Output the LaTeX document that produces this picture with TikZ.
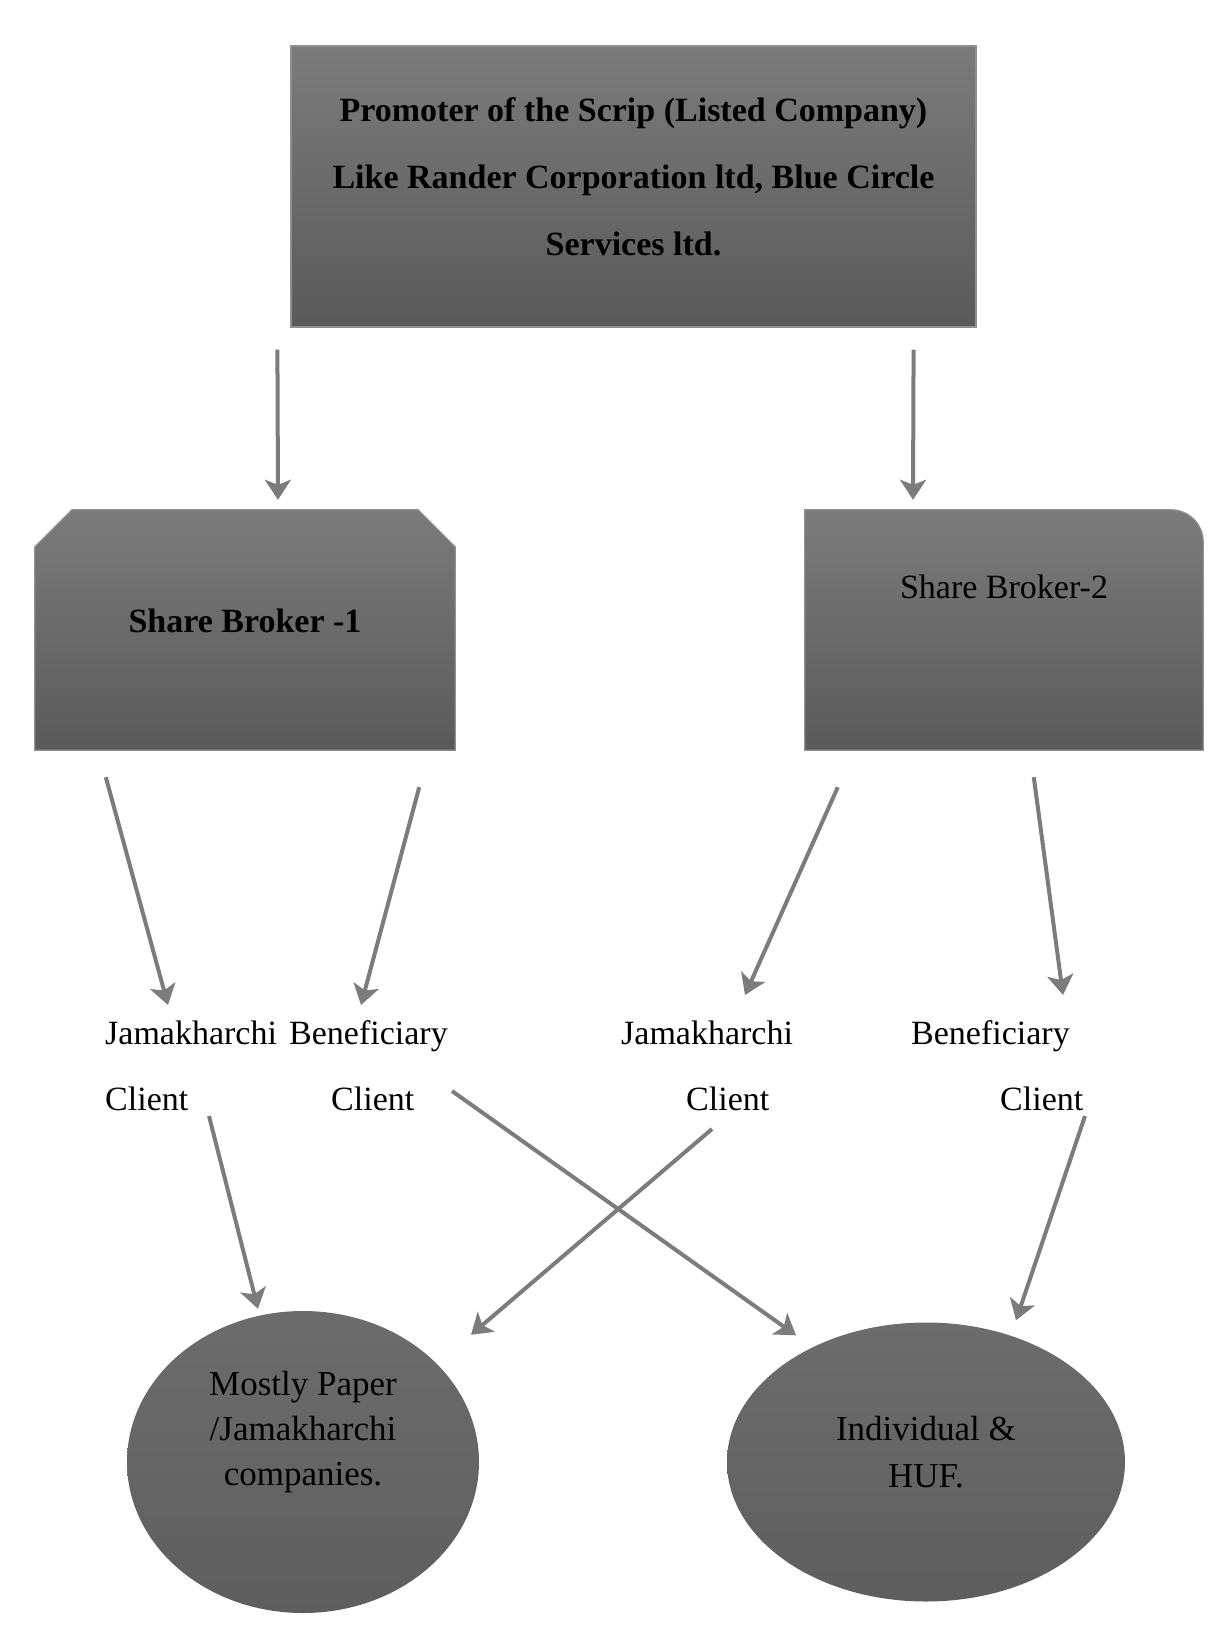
\documentclass[tikz,border=0pt]{standalone}
\usepackage{fontspec}
\setmainfont{Liberation Serif}
\usetikzlibrary{arrows.meta, positioning, shapes.geometric}
\definecolor{boxtop}{HTML}{7B7B7B}
\definecolor{boxbot}{HTML}{5A5A5A}
\definecolor{edge}{HTML}{909090}
\definecolor{arrowgray}{HTML}{7C7C7C}
\definecolor{blobtop}{HTML}{6C6C6C}
\definecolor{blobbot}{HTML}{5E5E5E}

\begin{document}
\begin{tikzpicture}[x=1pt, y=-1pt, font=\fontsize{34}{67}\selectfont, >={Stealth[length=20pt, width=26pt, inset=5pt]},
  b/.style={draw=edge, line width=1.2pt, top color=boxtop, bottom color=boxbot, inner sep=0pt, align=center},
  frame/.style={minimum width=#1, minimum height=240pt, inner sep=0pt},
  t/.style={anchor=base west, inner sep=0pt},
  e/.style={ellipse, inner sep=0pt, top color=blobtop, bottom color=blobbot},
  a/.style={->, draw=arrowgray, line width=4pt}]
\useasboundingbox (0,0) rectangle (1227,1642);
\node[b, minimum width=685pt, minimum height=281pt,
  label={[yshift=10pt, align=center, font=\fontsize{34}{67}\selectfont\bfseries]center:Promoter of the Scrip (Listed Company)\\Like Rander Corporation ltd, Blue Circle\\Services ltd.}] (top) at (633.5,186.5) {};
\node[frame=420pt] (b1) at (245,630) {};
\path[b] (b1.south west) -- ([yshift=-37pt]b1.north west) -- ([xshift=37pt]b1.north west) -- ([xshift=-37pt]b1.north east) -- ([yshift=-37pt]b1.north east) -- (b1.south east) -- cycle;
\node[font=\fontsize{34}{40}\selectfont\bfseries] at ([yshift=9pt]b1.center) {Share Broker -1};
\node[frame=398pt] (b2) at (1004,630) {};
\path[b] (b2.south west) -- (b2.north west) -- ([xshift=-32pt]b2.north east) arc[start angle=90, end angle=0, radius=32pt] -- (b2.south east) -- cycle;
\node at ([yshift=-77pt]b2.north) {Share Broker-2};
\node[t] (jam1) at (105,1044) {Jamakharchi};
\node[t] (ben1) at (289,1044) {Beneficiary};
\node[t] (cl1) at (105,1110) {Client};
\node[t] (cl2) at (331,1110) {Client};
\node[t] (jam2) at (621,1044) {Jamakharchi};
\node[t] (cl3) at (686,1110) {Client};
\node[t] (ben2) at (911,1044) {Beneficiary};
\node[t] (cl4) at (1000,1110) {Client};
\node[e, minimum width=352pt, minimum height=302pt,
  label={[yshift=30pt, align=center, font=\fontsize{35}{45}\selectfont]center:Mostly Paper\\/Jamakharchi\\companies.}] (paper) at (303,1462) {};
\node[e, minimum width=398pt, minimum height=279pt,
  label={[yshift=10pt, align=center, font=\fontsize{35}{47}\selectfont]center:Individual \&\\HUF.}] (huf) at (926,1462) {};
\draw[a] ([xshift=-13pt, yshift=-22pt]top.south west) -- ([xshift=33pt, yshift=10pt]b1.north);
\draw[a] ([xshift=-63pt, yshift=-22pt]top.south east) -- ([xshift=-91pt, yshift=10pt]b2.north);
\draw[a] ([xshift=71pt, yshift=-27pt]b1.south west) -- ([xshift=63pt, yshift=39pt]jam1.base west);
\draw[a] ([xshift=-36pt, yshift=-37pt]b1.south east) -- ([xshift=72pt, yshift=39pt]ben1.base west);
\draw[a] ([xshift=33pt, yshift=-37pt]b2.south west) -- ([xshift=124pt, yshift=49pt]jam2.base west);
\draw[a] ([xshift=229pt, yshift=-27pt]b2.south west) -- ([xshift=152pt, yshift=49pt]ben2.base west);
\draw[a] ([xshift=104pt, yshift=-6pt]cl1.base west) -- ([xshift=-45pt, yshift=2pt]paper.north);
\draw[a] ([xshift=121pt, yshift=19pt]cl2.base west) -- ([xshift=-130pt, yshift=-13pt]huf.north);
\draw[a] ([xshift=26pt, yshift=-19pt]cl3.base west) -- ([xshift=168pt, yshift=-24pt]paper.north);
\draw[a] ([xshift=85pt, yshift=-6pt]cl4.base west) -- ([xshift=90pt, yshift=2pt]huf.north);
\end{tikzpicture}
\end{document}
